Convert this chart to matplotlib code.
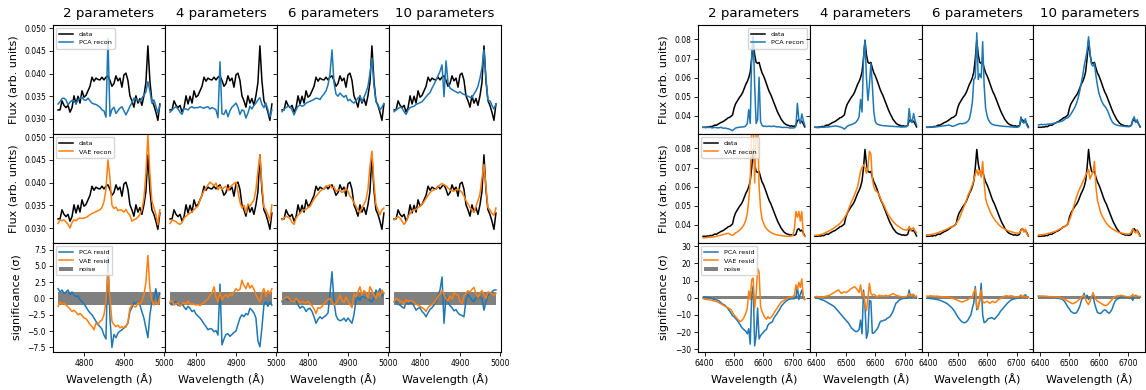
import numpy as np
import matplotlib
matplotlib.use('Agg')
import matplotlib.pyplot as plt

n_params = [2, 4, 6, 10]

# ---------------- H-beta / [OIII] region ----------------
left_wave = np.arange(4735, 4991, 5)

left_data = [
    0.0320, 0.0320, 0.0340, 0.0330, 0.0325, 0.0330, 0.0315, 0.0325, 0.0351, 0.0333,
    0.0350, 0.0335, 0.0362, 0.0348, 0.0352, 0.0362, 0.0372, 0.0392, 0.0383, 0.0390,
    0.0387, 0.0386, 0.0392, 0.0386, 0.0392, 0.0395, 0.0385, 0.0372, 0.0378, 0.0395,
    0.0384, 0.0390, 0.0370, 0.0397, 0.0401, 0.0385, 0.0351, 0.0340, 0.0326, 0.0351,
    0.0335, 0.0345, 0.0330, 0.0351, 0.0380, 0.0461, 0.0384, 0.0340, 0.0330, 0.0315,
    0.0297, 0.0333]

left_pca = {
    2: [0.0333, 0.0338, 0.0345, 0.0346, 0.0342, 0.0331, 0.0337, 0.0341, 0.0340, 0.0334,
        0.0342, 0.0346, 0.0348, 0.0342, 0.0341, 0.0346, 0.0340, 0.0335, 0.0333, 0.0332,
        0.0329, 0.0326, 0.0320, 0.0318, 0.0304, 0.0478, 0.0306, 0.0321, 0.0326, 0.0312,
        0.0318, 0.0324, 0.0327, 0.0318, 0.0309, 0.0318, 0.0328, 0.0336, 0.0346, 0.0344,
        0.0342, 0.0338, 0.0346, 0.0352, 0.0360, 0.0382, 0.0362, 0.0335, 0.0342, 0.0328,
        0.0313, 0.0330],
    4: [0.0315, 0.0320, 0.0324, 0.0327, 0.0322, 0.0315, 0.0310, 0.0323, 0.0322, 0.0320,
        0.0325, 0.0327, 0.0324, 0.0325, 0.0325, 0.0327, 0.0325, 0.0324, 0.0326, 0.0327,
        0.0322, 0.0325, 0.0323, 0.0320, 0.0303, 0.0426, 0.0312, 0.0310, 0.0320, 0.0305,
        0.0318, 0.0326, 0.0330, 0.0335, 0.0326, 0.0310, 0.0320, 0.0318, 0.0302, 0.0313,
        0.0328, 0.0322, 0.0330, 0.0335, 0.0342, 0.0347, 0.0332, 0.0325, 0.0335, 0.0320,
        0.0305, 0.0320],
    6: [0.0316, 0.0322, 0.0325, 0.0328, 0.0327, 0.0320, 0.0309, 0.0320, 0.0328, 0.0331,
        0.0328, 0.0330, 0.0335, 0.0337, 0.0339, 0.0341, 0.0343, 0.0346, 0.0345, 0.0343,
        0.0350, 0.0355, 0.0362, 0.0375, 0.0400, 0.0452, 0.0380, 0.0355, 0.0350, 0.0357,
        0.0352, 0.0348, 0.0352, 0.0340, 0.0343, 0.0338, 0.0335, 0.0340, 0.0346, 0.0350,
        0.0338, 0.0348, 0.0358, 0.0372, 0.0400, 0.0434, 0.0375, 0.0338, 0.0332, 0.0320,
        0.0326, 0.0334],
    10: [0.0316, 0.0320, 0.0323, 0.0326, 0.0324, 0.0316, 0.0310, 0.0320, 0.0325, 0.0327,
         0.0328, 0.0332, 0.0334, 0.0336, 0.0338, 0.0343, 0.0349, 0.0354, 0.0358, 0.0368,
         0.0376, 0.0386, 0.0395, 0.0405, 0.0419, 0.0349, 0.0428, 0.0380, 0.0368, 0.0365,
         0.0362, 0.0360, 0.0357, 0.0360, 0.0356, 0.0354, 0.0352, 0.0350, 0.0348, 0.0347,
         0.0355, 0.0362, 0.0372, 0.0390, 0.0412, 0.0452, 0.0390, 0.0340, 0.0340, 0.0330,
         0.0322, 0.0333],
}

left_vae = {
    2: [0.0310, 0.0318, 0.0316, 0.0318, 0.0313, 0.0308, 0.0300, 0.0312, 0.0318, 0.0316,
        0.0320, 0.0322, 0.0321, 0.0322, 0.0323, 0.0326, 0.0329, 0.0332, 0.0334, 0.0336,
        0.0338, 0.0340, 0.0345, 0.0358, 0.0385, 0.0450, 0.0410, 0.0350, 0.0343, 0.0346,
        0.0338, 0.0340, 0.0339, 0.0335, 0.0341, 0.0333, 0.0328, 0.0315, 0.0318, 0.0320,
        0.0324, 0.0330, 0.0340, 0.0365, 0.0420, 0.0505, 0.0420, 0.0360, 0.0345, 0.0330,
        0.0307, 0.0340],
    4: [0.0310, 0.0318, 0.0316, 0.0314, 0.0310, 0.0308, 0.0312, 0.0322, 0.0326, 0.0330,
        0.0333, 0.0336, 0.0340, 0.0345, 0.0348, 0.0362, 0.0372, 0.0382, 0.0388, 0.0395,
        0.0401, 0.0397, 0.0393, 0.0399, 0.0384, 0.0392, 0.0385, 0.0389, 0.0392, 0.0382,
        0.0390, 0.0394, 0.0398, 0.0401, 0.0380, 0.0357, 0.0344, 0.0350, 0.0333, 0.0353,
        0.0348, 0.0355, 0.0362, 0.0384, 0.0425, 0.0461, 0.0395, 0.0346, 0.0340, 0.0330,
        0.0316, 0.0351],
    6: [0.0318, 0.0322, 0.0326, 0.0324, 0.0321, 0.0312, 0.0308, 0.0322, 0.0328, 0.0333,
        0.0338, 0.0340, 0.0341, 0.0345, 0.0347, 0.0356, 0.0364, 0.0370, 0.0375, 0.0381,
        0.0384, 0.0387, 0.0391, 0.0393, 0.0395, 0.0388, 0.0391, 0.0380, 0.0384, 0.0382,
        0.0378, 0.0381, 0.0388, 0.0381, 0.0370, 0.0365, 0.0355, 0.0348, 0.0340, 0.0333,
        0.0345, 0.0352, 0.0362, 0.0385, 0.0436, 0.0469, 0.0400, 0.0352, 0.0340, 0.0329,
        0.0340, 0.0344],
    10: [0.0318, 0.0322, 0.0325, 0.0322, 0.0315, 0.0308, 0.0314, 0.0325, 0.0332, 0.0338,
         0.0340, 0.0341, 0.0345, 0.0348, 0.0352, 0.0358, 0.0365, 0.0372, 0.0378, 0.0382,
         0.0384, 0.0386, 0.0391, 0.0395, 0.0398, 0.0395, 0.0393, 0.0388, 0.0384, 0.0382,
         0.0381, 0.0384, 0.0386, 0.0383, 0.0378, 0.0370, 0.0360, 0.0353, 0.0345, 0.0340,
         0.0335, 0.0348, 0.0360, 0.0375, 0.0410, 0.0440, 0.0390, 0.0345, 0.0340, 0.0332,
         0.0328, 0.0344],
}

left_pca_resid = {
    2: [1.5, 1.0, 1.3, 0.8, 1.0, 1.3, 0.6, 1.0, 0.5, 0.3,
        0.4, -0.2, -0.5, -0.8, -1.3, -1.8, -2.2, -2.5, -3.0, -3.5,
        -4.0, -4.3, -4.7, -5.6, -6.2, 6.4, -3.0, -7.5, -5.5, -6.0,
        -5.3, -5.0, -4.8, -4.5, -4.2, -3.8, -2.0, -1.4, -0.6, -0.8,
        -0.5, -1.0, -2.0, -3.0, -4.5, -6.0, -2.5, -0.5, 0.0, 1.5,
        -0.5, 0.8],
    4: [-0.7, -1.0, -0.6, -0.5, -1.1, -0.9, -0.8, -1.3, -1.7, -1.2,
        -1.5, -2.0, -1.8, -2.4, -2.7, -3.0, -3.4, -3.9, -4.3, -4.8,
        -4.6, -4.7, -5.1, -4.9, -5.6, 2.2, -7.1, -6.2, -5.5, -5.4,
        -5.8, -5.5, -5.2, -5.0, -4.0, -3.0, -2.5, -2.8, -2.3, -2.5,
        -1.5, -1.8, -2.2, -3.0, -6.5, -7.4, -4.5, -1.0, -0.5, -1.2,
        -0.5, -1.0],
    6: [-0.5, -0.1, 0.0, -0.3, -0.2, -0.6, -0.5, -0.3, -1.0, -1.5,
        -1.2, -1.4, -2.0, -1.6, -1.5, -2.0, -2.8, -3.8, -3.2, -2.8,
        -3.1, -2.8, -2.6, -2.2, 0.8, 4.1, -0.5, -2.6, -3.2, -3.4,
        -3.3, -3.0, -3.5, -3.0, -3.4, -3.8, -2.5, -0.3, 0.2, -0.3,
        0.4, 0.2, 0.1, -0.1, -0.3, -0.5, 0.0, 1.3, 0.8, 1.5,
        0.3, 0.8],
    10: [-0.5, -0.4, -0.9, -1.0, -1.3, -1.5, -0.6, -0.8, -0.7, -0.6,
         -1.2, -1.8, -1.5, -1.4, -2.0, -2.3, -2.8, -2.2, -1.7, -1.4,
         -1.0, -0.5, 0.5, 1.3, 3.3, -3.8, 0.5, -0.6, -1.1, -1.4,
         -1.9, -1.7, -2.2, -2.5, -2.6, -2.8, -0.2, 0.6, 0.2, -0.3,
         -0.5, 0.2, 0.0, 0.2, 0.0, -1.8, -0.5, 0.5, 0.8, 1.0,
         1.3, 1.3],
}

left_vae_resid = {
    2: [-1.2, -0.5, -0.9, -0.7, -1.0, -1.3, -1.6, -2.0, -1.8, -2.1,
        -2.5, -2.3, -2.6, -3.0, -3.1, -3.5, -4.0, -4.3, -4.8, -3.8,
        -4.0, -3.5, -3.3, -2.5, -0.5, 4.1, 0.0, -3.5, -4.0, -4.3,
        -4.1, -4.5, -4.3, -4.5, -4.4, -3.6, -1.5, -1.0, -1.2, -1.3,
        -0.6, -0.9, -0.4, 0.5, 2.5, 6.6, 1.5, -0.3, -1.0, -0.6,
        -0.9, 0.2],
    4: [-0.5, -0.3, -1.0, -0.8, -0.7, -1.2, -0.8, -0.6, -0.9, -0.4,
        -0.9, -0.8, -0.9, -1.0, -0.9, -1.1, -0.8, -0.6, -0.3, -0.1,
        0.5, 0.8, 1.8, 0.2, -0.6, 1.0, -0.3, 0.3, 0.6, 0.2,
        0.7, 0.5, 1.0, 1.5, 1.2, 1.4, 2.8, 2.0, 1.5, 2.4,
        1.6, 2.0, 1.4, 0.6, 0.0, -0.5, 0.8, 1.5, 0.3, 1.2,
        0.7, 1.5],
    6: [-0.3, 0.0, 0.2, 0.3, -0.2, -0.5, -0.5, 0.0, -0.3, -0.7,
        -0.4, -0.6, -0.7, -0.4, -0.8, -1.1, -1.6, -2.3, -1.4, -1.5,
        -1.2, -0.8, -0.4, -0.2, 0.0, -0.5, -1.0, -0.7, -0.2, 0.5,
        -0.3, -0.6, 0.2, -0.4, -0.9, -1.4, 0.7, 0.3, 1.0, 1.8,
        0.5, 1.2, 0.9, 0.0, 1.8, 1.2, 0.5, 0.0, 1.0, 0.3,
        1.3, 0.8],
    10: [-0.5, 0.0, -0.2, -0.4, -0.5, -0.9, -0.2, -0.5, -0.3, -0.4,
         -0.6, -0.9, -1.0, -1.2, -1.4, -1.6, -2.0, -1.4, -1.1, -0.9,
         -0.7, -0.2, 0.3, 0.7, 1.2, 0.6, 0.0, -0.4, 0.4, -0.1,
         0.9, 0.6, 0.6, -0.4, -0.8, 0.4, 0.8, 1.2, 1.0, 1.4,
         1.7, 0.7, 0.1, 0.8, 1.2, 0.6, 0.0, 1.0, 0.9, 0.7,
         0.5, 0.8],
}

# ---------------- H-alpha region ----------------
right_wave = np.arange(6395, 6741, 5)

right_data = [
    0.0340, 0.0340, 0.0340, 0.0342, 0.0341, 0.0345, 0.0343, 0.0348, 0.0352, 0.0350,
    0.0356, 0.0360, 0.0365, 0.0368, 0.0372, 0.0378, 0.0383, 0.0390, 0.0392, 0.0398,
    0.0405, 0.0440, 0.0462, 0.0475, 0.0488, 0.0500, 0.0510, 0.0525, 0.0545, 0.0565,
    0.0580, 0.0600, 0.0630, 0.0700, 0.0795, 0.0720, 0.0680, 0.0675, 0.0680, 0.0650,
    0.0625, 0.0610, 0.0590, 0.0568, 0.0545, 0.0525, 0.0510, 0.0490, 0.0470, 0.0450,
    0.0430, 0.0412, 0.0398, 0.0382, 0.0372, 0.0362, 0.0356, 0.0352, 0.0350, 0.0346,
    0.0348, 0.0345, 0.0346, 0.0350, 0.0375, 0.0380, 0.0368, 0.0372, 0.0358, 0.0342]

right_pca = {
    2: [0.0340, 0.0340, 0.0338, 0.0340, 0.0339, 0.0340, 0.0337, 0.0338, 0.0340, 0.0338,
        0.0337, 0.0338, 0.0340, 0.0337, 0.0335, 0.0336, 0.0334, 0.0332, 0.0330, 0.0326,
        0.0322, 0.0330, 0.0336, 0.0338, 0.0340, 0.0340, 0.0342, 0.0342, 0.0343, 0.0348,
        0.0360, 0.0432, 0.0360, 0.0720, 0.0817, 0.0560, 0.0360, 0.0380, 0.0602, 0.0370,
        0.0350, 0.0345, 0.0346, 0.0344, 0.0345, 0.0346, 0.0344, 0.0345, 0.0346, 0.0344,
        0.0342, 0.0343, 0.0342, 0.0340, 0.0339, 0.0340, 0.0339, 0.0340, 0.0338, 0.0336,
        0.0337, 0.0336, 0.0338, 0.0345, 0.0465, 0.0380, 0.0360, 0.0410, 0.0378, 0.0350],
    4: [0.0340, 0.0340, 0.0338, 0.0339, 0.0340, 0.0341, 0.0340, 0.0341, 0.0342, 0.0341,
        0.0343, 0.0344, 0.0345, 0.0346, 0.0347, 0.0346, 0.0344, 0.0342, 0.0340, 0.0336,
        0.0330, 0.0338, 0.0345, 0.0350, 0.0352, 0.0355, 0.0358, 0.0362, 0.0368, 0.0378,
        0.0395, 0.0486, 0.0420, 0.0700, 0.0797, 0.0600, 0.0480, 0.0560, 0.0674, 0.0560,
        0.0420, 0.0370, 0.0358, 0.0354, 0.0352, 0.0350, 0.0349, 0.0348, 0.0348, 0.0347,
        0.0346, 0.0346, 0.0345, 0.0345, 0.0344, 0.0344, 0.0343, 0.0343, 0.0342, 0.0341,
        0.0342, 0.0342, 0.0343, 0.0348, 0.0438, 0.0370, 0.0365, 0.0412, 0.0375, 0.0352],
    6: [0.0340, 0.0340, 0.0341, 0.0341, 0.0342, 0.0342, 0.0343, 0.0343, 0.0344, 0.0345,
        0.0346, 0.0347, 0.0348, 0.0349, 0.0350, 0.0352, 0.0350, 0.0346, 0.0345, 0.0348,
        0.0352, 0.0355, 0.0358, 0.0360, 0.0358, 0.0360, 0.0362, 0.0366, 0.0372, 0.0385,
        0.0420, 0.0470, 0.0590, 0.0600, 0.0835, 0.0590, 0.0620, 0.0600, 0.0788, 0.0560,
        0.0440, 0.0400, 0.0378, 0.0365, 0.0358, 0.0354, 0.0352, 0.0350, 0.0350, 0.0348,
        0.0347, 0.0346, 0.0345, 0.0345, 0.0344, 0.0344, 0.0343, 0.0342, 0.0342, 0.0341,
        0.0340, 0.0340, 0.0341, 0.0345, 0.0395, 0.0368, 0.0362, 0.0385, 0.0350, 0.0338],
    10: [0.0352, 0.0354, 0.0355, 0.0354, 0.0355, 0.0354, 0.0356, 0.0357, 0.0357, 0.0358,
         0.0360, 0.0362, 0.0364, 0.0366, 0.0368, 0.0370, 0.0372, 0.0376, 0.0384, 0.0388,
         0.0390, 0.0398, 0.0410, 0.0422, 0.0435, 0.0450, 0.0470, 0.0495, 0.0530, 0.0570,
         0.0610, 0.0660, 0.0700, 0.0740, 0.0814, 0.0730, 0.0670, 0.0660, 0.0675, 0.0610,
         0.0560, 0.0520, 0.0495, 0.0475, 0.0460, 0.0450, 0.0440, 0.0425, 0.0405, 0.0385,
         0.0370, 0.0360, 0.0355, 0.0352, 0.0350, 0.0348, 0.0347, 0.0346, 0.0345, 0.0344,
         0.0344, 0.0343, 0.0344, 0.0350, 0.0380, 0.0395, 0.0365, 0.0380, 0.0355, 0.0345],
}

right_vae = {
    2: [0.0332, 0.0333, 0.0333, 0.0334, 0.0335, 0.0335, 0.0336, 0.0337, 0.0338, 0.0340,
        0.0342, 0.0344, 0.0346, 0.0348, 0.0350, 0.0352, 0.0354, 0.0356, 0.0352, 0.0348,
        0.0345, 0.0350, 0.0358, 0.0362, 0.0368, 0.0374, 0.0382, 0.0391, 0.0405, 0.0425,
        0.0460, 0.0530, 0.0640, 0.0900, 0.0950, 0.0620, 0.0900, 0.0950, 0.0600, 0.0487,
        0.0430, 0.0410, 0.0392, 0.0380, 0.0372, 0.0365, 0.0360, 0.0356, 0.0352, 0.0350,
        0.0348, 0.0346, 0.0345, 0.0344, 0.0342, 0.0342, 0.0341, 0.0340, 0.0340, 0.0340,
        0.0342, 0.0345, 0.0380, 0.0470, 0.0440, 0.0470, 0.0420, 0.0470, 0.0350, 0.0340],
    4: [0.0345, 0.0346, 0.0346, 0.0348, 0.0349, 0.0352, 0.0355, 0.0358, 0.0362, 0.0366,
        0.0370, 0.0374, 0.0379, 0.0384, 0.0390, 0.0396, 0.0400, 0.0408, 0.0416, 0.0426,
        0.0436, 0.0450, 0.0465, 0.0485, 0.0505, 0.0525, 0.0540, 0.0560, 0.0580, 0.0600,
        0.0640, 0.0680, 0.0700, 0.0715, 0.0700, 0.0670, 0.0700, 0.0785, 0.0770, 0.0640,
        0.0600, 0.0580, 0.0575, 0.0565, 0.0550, 0.0530, 0.0515, 0.0500, 0.0482, 0.0465,
        0.0450, 0.0440, 0.0428, 0.0418, 0.0410, 0.0402, 0.0396, 0.0391, 0.0385, 0.0380,
        0.0376, 0.0374, 0.0372, 0.0375, 0.0392, 0.0370, 0.0380, 0.0385, 0.0368, 0.0360],
    6: [0.0348, 0.0348, 0.0349, 0.0350, 0.0351, 0.0353, 0.0355, 0.0357, 0.0360, 0.0363,
        0.0366, 0.0369, 0.0372, 0.0375, 0.0379, 0.0383, 0.0387, 0.0390, 0.0393, 0.0398,
        0.0405, 0.0420, 0.0430, 0.0450, 0.0470, 0.0490, 0.0508, 0.0530, 0.0555, 0.0570,
        0.0590, 0.0610, 0.0635, 0.0665, 0.0688, 0.0660, 0.0685, 0.0650, 0.0732, 0.0620,
        0.0540, 0.0510, 0.0490, 0.0470, 0.0455, 0.0440, 0.0428, 0.0418, 0.0410, 0.0400,
        0.0393, 0.0387, 0.0382, 0.0378, 0.0374, 0.0370, 0.0367, 0.0365, 0.0363, 0.0360,
        0.0358, 0.0357, 0.0356, 0.0358, 0.0370, 0.0382, 0.0362, 0.0378, 0.0352, 0.0345],
    10: [0.0347, 0.0348, 0.0348, 0.0349, 0.0350, 0.0352, 0.0354, 0.0356, 0.0358, 0.0360,
         0.0362, 0.0365, 0.0368, 0.0372, 0.0376, 0.0380, 0.0384, 0.0388, 0.0392, 0.0398,
         0.0405, 0.0425, 0.0445, 0.0470, 0.0500, 0.0525, 0.0550, 0.0572, 0.0590, 0.0605,
         0.0625, 0.0640, 0.0660, 0.0675, 0.0690, 0.0640, 0.0660, 0.0675, 0.0732, 0.0600,
         0.0530, 0.0500, 0.0470, 0.0450, 0.0435, 0.0422, 0.0410, 0.0400, 0.0392, 0.0385,
         0.0380, 0.0375, 0.0370, 0.0366, 0.0362, 0.0360, 0.0358, 0.0356, 0.0354, 0.0352,
         0.0352, 0.0352, 0.0354, 0.0360, 0.0380, 0.0365, 0.0358, 0.0372, 0.0350, 0.0345],
}

right_pca_resid = {
    2: [0.3, 0.5, 0.3, 0.2, 0.0, -0.3, -0.5, -0.8, -1.0, -1.2,
        -1.5, -2.0, -2.8, -3.5, -4.0, -4.5, -5.5, -6.5, -7.8, -9.0,
        -10.5, -11.0, -12.0, -13.0, -14.2, -15.5, -17.0, -18.0, -18.8, -19.5,
        -21.0, -18.0, -27.0, 2.0, 7.0, -28.0, -22.0, -6.0, -24.0, -22.0,
        -21.0, -20.0, -19.0, -18.5, -16.0, -15.0, -14.5, -14.0, -12.0, -10.5,
        -9.5, -8.0, -6.8, -5.0, -4.0, -3.0, -2.2, -1.5, -1.0, -0.8,
        -0.5, -0.6, -0.5, 0.0, 6.5, -1.0, 2.0, 4.5, 0.0, -1.0],
    4: [0.1, 0.0, -0.3, -0.6, -1.0, -1.3, -1.5, -2.0, -2.5, -3.0,
        -3.5, -4.0, -4.5, -5.0, -6.0, -7.0, -8.0, -9.0, -10.0, -11.0,
        -12.0, -13.0, -14.0, -15.0, -16.5, -17.8, -18.5, -19.3, -19.7, -19.5,
        -18.5, -13.0, -21.0, 4.5, -5.0, -23.6, -20.0, -1.5, -2.0, -20.7,
        -20.5, -19.5, -18.5, -17.0, -14.5, -13.5, -13.5, -13.0, -12.9, -12.0,
        -11.5, -11.0, -9.5, -8.0, -5.5, -3.2, -2.5, -1.5, -1.0, -0.6,
        -0.4, -0.3, -0.3, 0.0, 4.5, 0.0, 2.0, 1.5, 0.5, 0.0],
    6: [-0.3, -0.3, -0.4, -0.5, -0.6, -0.7, -0.9, -1.0, -1.2, -1.5,
        -1.8, -2.2, -2.6, -3.0, -3.5, -4.2, -5.0, -5.8, -6.8, -8.0,
        -9.5, -11.0, -12.2, -13.2, -14.0, -14.5, -14.5, -14.0, -13.0, -11.5,
        -10.0, -6.0, -3.0, 6.5, -7.0, -5.0, -2.0, 8.4, -10.0, -14.5,
        -14.0, -13.0, -12.0, -12.0, -11.5, -12.0, -12.5, -11.5, -10.5, -9.5,
        -8.0, -7.0, -6.0, -5.0, -4.0, -3.0, -2.2, -1.5, -1.0, -0.8,
        -0.5, -0.3, 0.0, 0.3, 1.5, 0.5, 1.0, 1.8, 0.5, 0.2],
    10: [0.8, 0.8, 0.7, 0.8, 0.6, 0.7, 0.6, 0.5, 0.5, 0.4,
         0.3, 0.2, 0.0, -0.2, -0.4, -0.6, -0.8, -1.5, -2.5, -4.0,
         -5.5, -6.5, -8.0, -8.5, -9.0, -9.0, -8.5, -7.0, -5.0, -2.0,
         0.5, 2.6, -0.5, 1.5, -1.0, 0.5, 0.0, 1.5, -3.0, -6.0,
         -8.5, -9.0, -9.2, -8.5, -7.5, -7.0, -7.5, -8.5, -9.0, -8.0,
         -6.5, -4.0, -2.0, -1.0, -0.5, 0.0, 0.3, 0.5, 0.5, 0.3,
         0.2, 0.0, 0.2, 0.0, -1.5, 0.5, 1.5, 0.5, 0.0, 0.3],
}

right_vae_resid = {
    2: [-0.5, -0.8, -1.0, -1.0, -1.2, -1.3, -1.5, -1.8, -2.0, -2.2,
        -2.5, -3.0, -3.5, -4.0, -4.5, -5.0, -5.5, -5.8, -6.5, -7.0,
        -8.5, -10.0, -11.0, -12.0, -13.0, -13.8, -13.5, -12.5, -11.0, -9.0,
        -6.0, 4.0, -1.0, 10.5, 11.5, -6.0, 2.0, 17.0, 15.0, -5.0,
        -8.0, -10.0, -11.5, -12.5, -11.0, -12.0, -11.5, -10.5, -9.0, -7.5,
        -6.5, -5.0, -3.8, -2.5, -2.0, -1.5, -1.0, -0.5, 0.0, 0.5,
        0.5, 0.8, 1.5, 7.5, 5.0, 9.0, 6.0, 11.0, 1.0, -1.0],
    4: [0.5, 0.8, 0.5, 0.3, 0.2, 0.3, 0.5, 0.8, 1.0, 1.3,
        1.5, 2.0, 2.5, 3.0, 3.6, 4.0, 4.6, 3.5, 2.5, 3.0,
        3.5, 3.0, 3.5, 4.0, 5.0, 5.5, 6.0, 6.5, 5.5, 4.5,
        3.0, 7.5, 1.0, 3.0, -4.0, -7.5, 0.0, 8.4, 2.5, 1.5,
        2.0, 1.5, 0.5, 1.0, 1.5, 1.0, 1.2, 0.8, 1.5, 1.0,
        1.2, 1.5, 2.0, 2.5, 2.0, 1.5, 1.2, 1.0, 0.8, 0.5,
        0.3, 0.5, 0.8, 1.0, 2.5, 1.0, 1.5, 2.0, 0.5, 1.0],
    6: [1.0, 0.8, 1.0, 1.2, 0.8, 1.0, 0.8, 1.0, 0.7, 0.8,
        0.5, 0.6, 0.4, 0.5, 0.3, 0.2, 0.0, -0.2, -0.5, -0.8,
        -1.0, -1.5, -1.8, -2.2, -2.5, -2.2, -1.8, -1.5, -1.0, -0.5,
        0.0, 0.5, 3.5, 5.0, -5.5, -6.5, 0.0, 4.5, -2.0, -3.0,
        -2.5, -2.0, -2.8, -3.2, -2.5, -2.0, -2.8, -2.5, -1.5, -1.0,
        -0.5, 0.0, 0.5, 1.0, 1.2, 1.0, 0.8, 1.2, 1.0, 0.8,
        0.5, 0.3, 0.5, 0.8, 1.5, 0.5, 1.0, 0.8, 0.3, 0.5],
    10: [1.0, 0.8, 1.0, 0.8, 1.0, 0.7, 0.8, 0.6, 0.7, 0.5,
         0.6, 0.4, 0.5, 0.3, 0.2, 0.0, -0.3, -0.5, -1.0, -1.5,
         -2.0, -2.5, -3.0, -3.5, -3.2, -2.8, -2.2, -1.5, -0.8, 0.0,
         1.0, 1.5, -1.0, -3.0, -4.0, -2.0, 0.5, 3.0, 1.0, -1.0,
         -2.0, -2.5, -3.0, -3.5, -4.0, -4.5, -4.5, -4.0, -3.0, -2.0,
         -1.0, 0.0, 0.5, 1.0, 1.2, 1.0, 1.5, 1.2, 1.0, 0.8,
         0.6, 0.5, 0.7, 1.0, 2.0, 0.8, 1.0, 1.2, 0.6, 0.8],
}

TICK_FS = 5.5
LABEL_FS = 8
TITLE_FS = 9.6
LEG_FS = 4.6
LW = 1.1


def style_axis(ax):
    ax.tick_params(labelsize=TICK_FS, length=3, width=0.6, pad=2)
    for s in ax.spines.values():
        s.set_linewidth(0.8)


def draw_group(gs, wave, data, pca, vae, pca_res, vae_res,
               flux_lim, flux_ticks, sig_lim, sig_ticks, xticks, leg_locs):
    for j, n in enumerate(n_params):
        ax_p = fig.add_subplot(gs[0, j])
        ax_v = fig.add_subplot(gs[1, j], sharex=ax_p)
        ax_r = fig.add_subplot(gs[2, j], sharex=ax_p)

        ax_p.plot(wave, data, color='k', lw=LW, label='data')
        ax_p.plot(wave, pca[n], color='C0', lw=LW, label='PCA recon')
        ax_v.plot(wave, data, color='k', lw=LW, label='data')
        ax_v.plot(wave, vae[n], color='C1', lw=LW, label='VAE recon')
        ax_r.plot(wave, pca_res[n], color='C0', lw=LW, label='PCA resid')
        ax_r.plot(wave, vae_res[n], color='C1', lw=LW, label='VAE resid')
        ax_r.fill_between(wave, -1, 1, color='grey', lw=0, label='noise')

        ax_p.set_title(f'{n} parameters', fontsize=TITLE_FS)
        for ax in (ax_p, ax_v):
            ax.set_ylim(*flux_lim)
            ax.set_yticks(flux_ticks)
            ax.tick_params(labelbottom=False)
        ax_r.set_ylim(*sig_lim)
        ax_r.set_yticks(sig_ticks)
        ax_r.set_xticks(xticks)
        ax_r.set_xlabel('Wavelength (Å)', fontsize=LABEL_FS)

        for ax in (ax_p, ax_v, ax_r):
            style_axis(ax)
            if j > 0:
                ax.tick_params(labelleft=False)

        if j == 0:
            ax_p.set_ylabel('Flux (arb. units)', fontsize=LABEL_FS)
            ax_v.set_ylabel('Flux (arb. units)', fontsize=LABEL_FS)
            ax_r.set_ylabel('significance (σ)', fontsize=LABEL_FS)
            for ax, loc in zip((ax_p, ax_v, ax_r), leg_locs):
                ax.legend(loc=loc, fontsize=LEG_FS, handlelength=2.2,
                          borderpad=0.5, labelspacing=0.5)


fig = plt.figure(figsize=(11.46, 3.9), dpi=100)

gs_left = fig.add_gridspec(3, 4, left=0.0462, right=0.4372, top=0.936,
                           bottom=0.0974, wspace=0, hspace=0)
gs_right = fig.add_gridspec(3, 4, left=0.6091, right=0.9993, top=0.936,
                            bottom=0.0974, wspace=0, hspace=0)

draw_group(gs_left, left_wave, left_data, left_pca, left_vae,
           left_pca_resid, left_vae_resid,
           (0.0267, 0.0507), [0.030, 0.035, 0.040, 0.045, 0.050],
           (-8.2, 8.5), [-7.5, -5.0, -2.5, 0.0, 2.5, 5.0, 7.5],
           [4800, 4900, 5000],
           ['upper left', 'upper left', 'upper left'])

draw_group(gs_right, right_wave, right_data, right_pca, right_vae,
           right_pca_resid, right_vae_resid,
           (0.0305, 0.0876), [0.04, 0.05, 0.06, 0.07, 0.08],
           (-31.6, 31.9), [-30, -20, -10, 0, 10, 20, 30],
           [6400, 6500, 6600, 6700],
           ['upper right', 'upper left', 'upper left'])

fig.savefig('out.png', dpi=100)
